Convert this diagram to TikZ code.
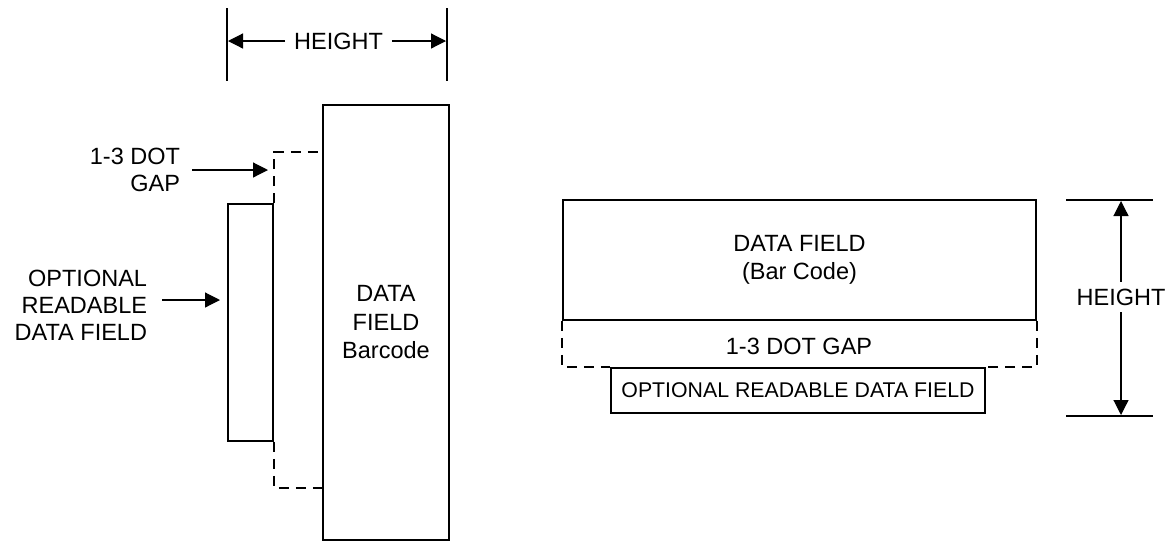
\documentclass[tikz,border=0pt]{standalone}
\usepackage{fontspec}
\setmainfont{Liberation Sans}
\usetikzlibrary{
    arrows.meta,
    positioning
}

\begin{document}
\begin{tikzpicture}[
    x=1pt, y=-1pt,
    box/.style={
        draw,
        line width=1.8pt,
        inner sep=0pt,
        align=center,
        font=\fontsize{23.5}{28.5}\selectfont
    },
    lbl/.style={
        inner sep=0pt,
        font=\fontsize{23.5}{27}\selectfont
    },
    gapline/.style={line width=1.8pt, dash pattern=on 10pt off 7pt},
    dimline/.style={line width=1.2pt},
    dimarrow/.style={line width=1.2pt, -{Triangle[length=15pt,width=15pt]}}
]
\useasboundingbox (0,0) rectangle (1169,542);

% vertical layout (left)
\node[box, minimum width=126pt, minimum height=435pt] (vbar) at (386,322.5)
{DATA\\FIELD\\Barcode};

\node[box, minimum width=45pt, minimum height=237pt] (vopt) at (250.5,322.5) {};

\coordinate (vgaptop) at (323,152);
\coordinate (vgapbot) at (323,488);
\draw[gapline] (vopt.north east) |- (vgaptop);
\draw[gapline] (vopt.south east) |- (vgapbot);

\node[lbl, align=right, anchor=east, outer xsep=12pt] (lgap) at (192,170)
{1-3 DOT\\GAP};
\coordinate (lgaptip) at (268,170);
\draw[dimarrow] (lgap) -- (lgaptip);

\node[lbl, align=right, anchor=east, outer xsep=15pt] (lopt) at (162,305)
{OPTIONAL\\READABLE\\DATA FIELD};
\coordinate (lopttip) at (220,300);
\draw[dimarrow] (lopt.east |- lopttip) -- (lopttip);

% height, top
\draw[dimline] (227,8) -- (227,81);
\draw[dimline] (447,8) -- (447,81);
\coordinate (vdl) at (228,41);
\coordinate (vdr) at (446,41);
\node[lbl, outer xsep=9pt] (vdim) at (338.5,41) {HEIGHT};
\draw[dimarrow] (vdim) -- (vdl);
\draw[dimarrow] (vdim) -- (vdr);

% horizontal layout (right)
\node[box, minimum width=473pt, minimum height=120pt] (hbar) at (799.5,260)
{DATA FIELD\\(Bar Code)};

\node[box, minimum width=374pt, minimum height=45pt,
font=\fontsize{21.3}{25}\selectfont] (hopt) at (798,390.5)
{OPTIONAL READABLE DATA FIELD};

\node[lbl] (hgap) at (799,346) {1-3 DOT GAP};

\draw[gapline] (hbar.south west) |- (hopt.north west);
\draw[gapline] (hbar.south east) |- (hopt.north east);

% height, right
\draw[dimline] (1066,200) -- (1153,200);
\draw[dimline] (1066,416) -- (1153,416);
\coordinate (hdt) at (1121,201);
\coordinate (hdb) at (1121,415);
\node[lbl, outer ysep=7pt] (hdim) at (1121,297) {HEIGHT};
\draw[dimarrow] (hdim) -- (hdt);
\draw[dimarrow] (hdim) -- (hdb);

\end{tikzpicture}
\end{document}
